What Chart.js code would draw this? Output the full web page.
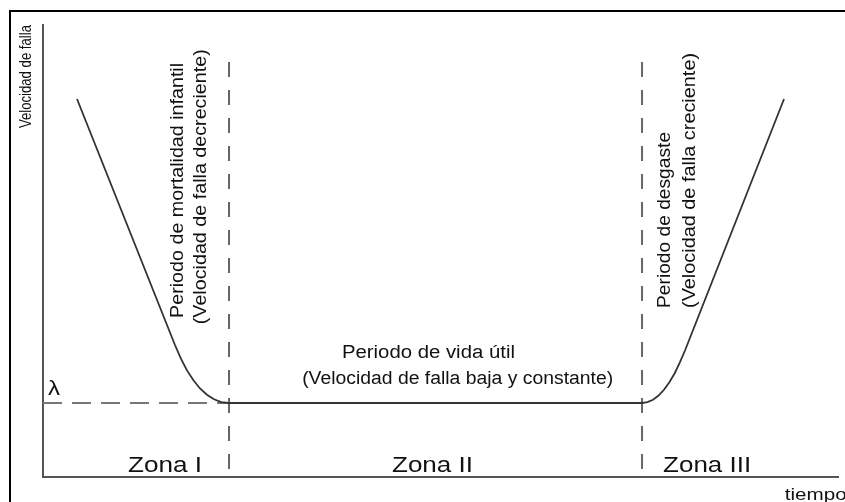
<!DOCTYPE html>
<html>
<head>
<meta charset="utf-8">
<script src="https://cdn.jsdelivr.net/npm/chart.js@4"></script>
<style>
  html, body { margin: 0; padding: 0; background: #ffffff; }
  #c { display: block; }
</style>
</head>
<body>
<canvas id="c" width="845" height="502"></canvas>
<script>
// ---- Data (arbitrary units: time 0..100, failure rate 0..100) ----
const curveTime = [4.28, 16.60, 17.35, 18.11, 18.92, 19.75, 20.62, 21.51, 22.43, 23.40,
                   75.35, 76.04, 76.73, 77.43, 78.11, 78.79, 79.46, 80.11, 80.78, 93.21];
const curveRate = [83.63, 29.20, 26.19, 23.58, 21.39, 19.58, 18.19, 17.19, 16.57, 16.37,
                   16.37, 16.55, 17.10, 18.03, 19.30, 20.95, 22.96, 25.35, 28.10, 83.63];
const lambdaRate = 16.37;
const zoneBounds = [23.4, 75.35];
const boundTop = 91.8;
const zoneNames = ['Zona I', 'Zona II', 'Zona III'];
const axisTitles = ['Velocidad de falla', 'tiempo'];

const curveData = curveTime.map((t, i) => ({ x: t, y: curveRate[i] }));
const lambdaData = [{ x: 0, y: lambdaRate }, { x: zoneBounds[0], y: lambdaRate }];
const bound1 = [{ x: zoneBounds[0], y: boundTop }, { x: zoneBounds[0], y: 0 }];
const bound2 = [{ x: zoneBounds[1], y: boundTop }, { x: zoneBounds[1], y: 0 }];

const FONT = '"Liberation Sans", Arial, sans-serif';

// label layout: text, x, y (data units), font size, target width (px), rotated
const labels = [
  { t: axisTitles[0], x: -1.5, y: 77.2, s: 17, w: 103, r: true },
  { t: 'Periodo de mortalidad infantil', x: 17.6, y: 35.2, s: 18, w: 255, r: true },
  { t: '(Velocidad de falla decreciente)', x: 20.5, y: 33.8, s: 18, w: 275, r: true },
  { t: 'Periodo de desgaste', x: 78.9, y: 37.4, s: 18, w: 176, r: true },
  { t: '(Velocidad de falla creciente)', x: 82.0, y: 37.4, s: 18, w: 255, r: true },
  { t: 'Periodo de vida útil', x: 37.6, y: 26.3, s: 18, w: 173, r: false },
  { t: '(Velocidad de falla baja y constante)', x: 32.6, y: 20.6, s: 18, w: 311, r: false },
  { t: zoneNames[0], x: 10.7, y: 1.1, s: 22, w: 74, r: false },
  { t: zoneNames[1], x: 43.9, y: 1.1, s: 22, w: 81, r: false },
  { t: zoneNames[2], x: 78.0, y: 1.1, s: 22, w: 88, r: false },
  { t: axisTitles[1], x: 93.3, y: -5.1, s: 16, w: 62, r: false },
  { t: 'λ', x: 0.63, y: 18.1, s: 21, w: 12, r: false }
];

const framePlugin = {
  id: 'frame',
  beforeDraw(chart) {
    const ctx = chart.ctx;
    ctx.save();
    ctx.fillStyle = '#ffffff';
    ctx.fillRect(0, 0, chart.width, chart.height);
    ctx.strokeStyle = '#000000';
    ctx.lineWidth = 2;
    ctx.beginPath();
    ctx.moveTo(10, chart.height + 5);
    ctx.lineTo(10, 11);
    ctx.lineTo(chart.width + 5, 11);
    ctx.stroke();
    ctx.restore();
  }
};

const labelPlugin = {
  id: 'labels',
  afterDraw(chart) {
    const ctx = chart.ctx;
    const xs = chart.scales.x, ys = chart.scales.y;
    labels.forEach(l => {
      const px = xs.getPixelForValue(l.x);
      const py = ys.getPixelForValue(l.y);
      ctx.save();
      ctx.translate(px, py);
      if (l.r) ctx.rotate(-Math.PI / 2);
      ctx.font = l.s + 'px ' + FONT;
      const w = ctx.measureText(l.t).width;
      ctx.scale(l.w / w, 1);
      ctx.fillStyle = '#111111';
      ctx.textAlign = 'left';
      ctx.textBaseline = 'alphabetic';
      ctx.fillText(l.t, 0, 0);
      ctx.restore();
    });
  }
};

new Chart(document.getElementById('c'), {
  type: 'line',
  data: {
    datasets: [
      { data: curveData, borderColor: '#333333', borderWidth: 1.8, pointRadius: 0, tension: 0, fill: false },
      { data: lambdaData, borderColor: '#777777', borderWidth: 2, borderDash: [19, 10], pointRadius: 0, fill: false },
      { data: bound1, borderColor: '#666666', borderWidth: 2, borderDash: [15, 13], pointRadius: 0, fill: false },
      { data: bound2, borderColor: '#666666', borderWidth: 2, borderDash: [15, 13], pointRadius: 0, fill: false }
    ]
  },
  options: {
    responsive: false,
    animation: false,
    events: [],
    layout: { padding: { left: 43, right: 7, top: 25, bottom: 25 } },
    plugins: { legend: { display: false }, tooltip: { enabled: false } },
    scales: {
      x: {
        type: 'linear', min: 0, max: 100,
        ticks: { display: false },
        grid: { display: false, drawTicks: false },
        border: { display: true, color: '#555555', width: 2 },
        title: { display: false }
      },
      y: {
        type: 'linear', min: 0, max: 100,
        ticks: { display: false },
        grid: { display: false, drawTicks: false },
        border: { display: true, color: '#555555', width: 2 },
        title: { display: false }
      }
    }
  },
  plugins: [framePlugin, labelPlugin]
});
</script>
</body>
</html>
